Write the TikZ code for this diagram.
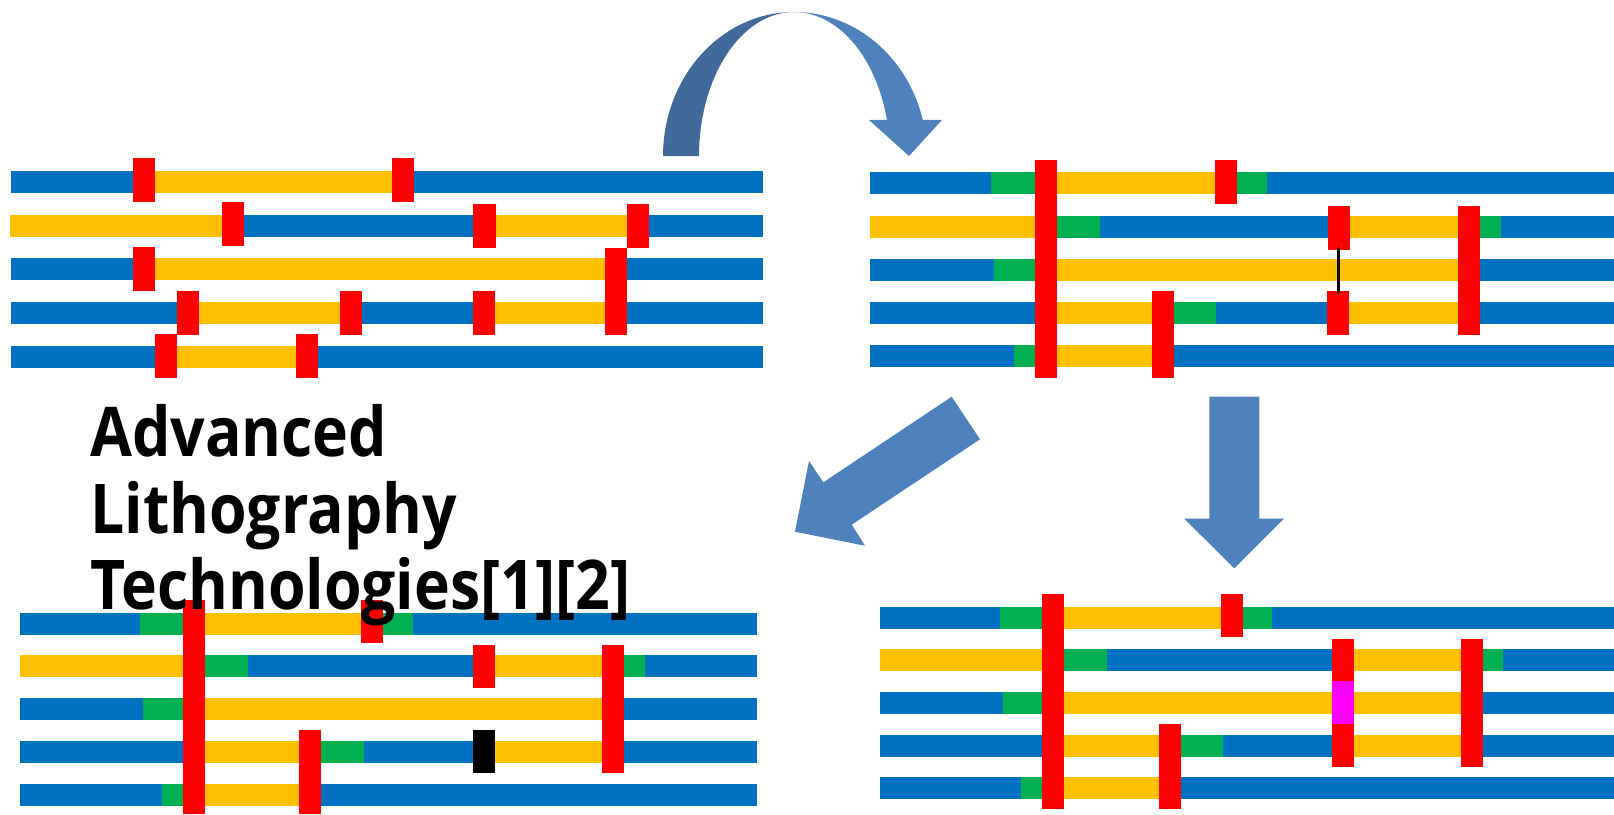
\documentclass[tikz,border=0pt]{standalone}
\usepackage{fontspec}
\setmainfont{Open Sans}
\newfontfamily\titlefont[FakeStretch=0.885]{Open Sans}
\definecolor{lineblue}{HTML}{0070C0}
\definecolor{lineyellow}{HTML}{FFC000}
\definecolor{linegreen}{HTML}{00B050}
\definecolor{cutred}{HTML}{FF0000}
\definecolor{cutpink}{HTML}{FF00FF}
\definecolor{arrowlight}{HTML}{4F81BD}
\definecolor{arrowdark}{HTML}{41699A}
% a filled box from (x1,y1) to (x2,y2)
\newcommand\blk[5]{\fill[#1] (#2,#3) rectangle (#4,#5);}
% a track segment of height 22 starting at top y
\newcommand\seg[4]{\fill[#1] (#2,#4) rectangle (#3,#4+22);}
\begin{document}
\begin{tikzpicture}[x=1pt,y=-1pt,
  title/.style={anchor=base west, inner sep=0pt, text=black,
    font=\titlefont\bfseries\fontsize{68.6}{70}\selectfont}]
\useasboundingbox (0,0) rectangle (1614,814);

% ---------- layout 1 (top left) ----------
\foreach \t in {171,258,302,346} {\seg{lineblue}{11}{763}{\t}}
\seg{lineyellow}{10}{763}{215}
\seg{lineyellow}{144}{403}{171}
\seg{lineblue}{233}{484}{215}
\seg{lineblue}{638}{763}{215}
\seg{lineyellow}{144}{616}{258}
\seg{lineyellow}{188}{351}{302}
\seg{lineyellow}{484}{616}{302}
\seg{lineyellow}{166}{307}{346}
\blk{cutred}{133}{158}{155}{202}
\blk{cutred}{392}{158}{414}{202}
\blk{cutred}{222}{202}{244}{246}
\blk{cutred}{473}{204}{496}{248}
\blk{cutred}{627}{204}{649}{248}
\blk{cutred}{133}{247}{155}{291}
\blk{cutred}{605}{248}{627}{335}
\blk{cutred}{177}{291}{199}{335}
\blk{cutred}{340}{291}{362}{335}
\blk{cutred}{473}{291}{495}{335}
\blk{cutred}{155}{334}{177}{378}
\blk{cutred}{296}{334}{318}{378}

% ---------- layout 2 (top right) ----------
\foreach \t in {172,216,259,302,345} {\seg{lineblue}{870}{1614}{\t}}
\seg{linegreen}{991}{1046}{172}
\seg{lineyellow}{1046}{1226}{172}
\seg{linegreen}{1226}{1267}{172}
\seg{lineyellow}{870}{1046}{216}
\seg{linegreen}{1046}{1100}{216}
\seg{lineyellow}{1339}{1469}{216}
\seg{linegreen}{1469}{1501}{216}
\seg{linegreen}{994}{1046}{259}
\seg{lineyellow}{1046}{1469}{259}
\seg{lineyellow}{1046}{1163}{302}
\seg{linegreen}{1163}{1216}{302}
\seg{lineyellow}{1338}{1469}{302}
\seg{linegreen}{1014}{1046}{345}
\seg{lineyellow}{1046}{1163}{345}
\blk{cutred}{1035}{160}{1057}{378}
\blk{cutred}{1215}{160}{1237}{204}
\blk{cutred}{1328}{206}{1350}{250}
\blk{cutred}{1458}{206}{1480}{335}
\blk{cutred}{1152}{291}{1174}{378}
\blk{cutred}{1327}{291}{1349}{335}
\draw[black, line width=3.6pt, line cap=round] (1338.5,249) -- (1338.5,292);

% ---------- layout 3 (bottom left) ----------
\foreach \t in {613,655,698,741,784} {\seg{lineblue}{20}{757}{\t}}
\seg{linegreen}{140}{194}{613}
\seg{lineyellow}{194}{372}{613}
\seg{linegreen}{372}{413}{613}
\seg{lineyellow}{20}{194}{655}
\seg{linegreen}{194}{248}{655}
\seg{lineyellow}{484}{613}{655}
\seg{linegreen}{613}{645}{655}
\seg{linegreen}{143}{194}{698}
\seg{lineyellow}{194}{613}{698}
\seg{lineyellow}{194}{310}{741}
\seg{linegreen}{310}{364}{741}
\seg{lineyellow}{484}{613}{741}
\seg{linegreen}{162}{194}{784}
\seg{lineyellow}{194}{310}{784}
\blk{cutred}{183}{600}{205}{814}
\blk{cutred}{361}{600}{383}{643}
\blk{cutred}{473}{645}{495}{688}
\blk{cutred}{602}{645}{624}{773}
\blk{cutred}{299}{730}{321}{814}
\blk{black}{473}{730}{495}{773}

% ---------- layout 4 (bottom right) ----------
\foreach \t in {607,649,692,735,777} {\seg{lineblue}{880}{1614}{\t}}
\seg{linegreen}{1000}{1053}{607}
\seg{lineyellow}{1053}{1232}{607}
\seg{linegreen}{1232}{1272}{607}
\seg{lineyellow}{880}{1053}{649}
\seg{linegreen}{1053}{1107}{649}
\seg{lineyellow}{1343}{1472}{649}
\seg{linegreen}{1472}{1503}{649}
\seg{linegreen}{1003}{1053}{692}
\seg{lineyellow}{1053}{1472}{692}
\seg{lineyellow}{1053}{1170}{735}
\seg{linegreen}{1170}{1223}{735}
\seg{lineyellow}{1343}{1472}{735}
\seg{linegreen}{1021}{1053}{777}
\seg{lineyellow}{1053}{1170}{777}
\blk{cutred}{1042}{594}{1064}{809}
\blk{cutred}{1221}{594}{1243}{637}
\blk{cutred}{1332}{639}{1354}{681}
\blk{cutpink}{1332}{681}{1354}{724}
\blk{cutred}{1332}{724}{1354}{767}
\blk{cutred}{1461}{639}{1483}{767}
\blk{cutred}{1159}{724}{1181}{809}

% ---------- block arrows ----------
% curved arrow: back half
\fill[arrowdark]
  plot[domain=180:270, samples=60] ({794+131*cos(\x)}, {156+144*sin(\x)})
  -- plot[domain=270:180, samples=60] ({794+95*cos(\x)}, {156+144*sin(\x)})
  -- cycle;
% curved arrow: front half with head
\fill[arrowlight]
  plot[domain=270:345.5, samples=60] ({794+133*cos(\x)}, {156+144*sin(\x)})
  -- (942,120) -- (909,156) -- (869,120)
  -- plot[domain=345.5:270, samples=60] ({794+96*cos(\x)}, {156+144*sin(\x)})
  -- cycle;
% diagonal arrow
\fill[arrowlight] (951.7,396.7) -- (980,439.3) -- (851.7,524.7) -- (865,545.7)
  -- (795,531.7) -- (809,461) -- (823.3,482.3) -- cycle;
% downward arrow
\fill[arrowlight] (1209.3,396.7) -- (1259.3,396.7) -- (1259.3,518.7) -- (1284,518.7)
  -- (1234.3,568.3) -- (1184.3,518.7) -- (1209.3,518.7) -- cycle;

% ---------- title ----------
\node[title] (t1) at (90,456) {Advanced};
\node[title] (t2) at (90,533) {Lithography};
\node[title] (t3) at (90,609) {Technologies[1][2]};
\end{tikzpicture}
\end{document}
